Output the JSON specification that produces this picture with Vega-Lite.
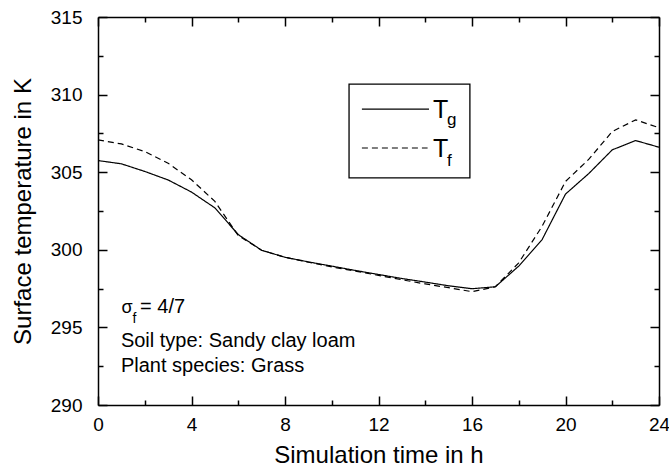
{
  "$schema": "https://vega.github.io/schema/vega-lite/v6.json",
  "width": 561,
  "height": 388,
  "autosize": {"type": "none"},
  "padding": {"left": 98, "top": 17, "right": 10, "bottom": 66},
  "background": "white",
  "config": {
    "view": {"stroke": null},
    "font": "Liberation Sans",
    "text": {"font": "Liberation Sans", "color": "black"},
    "axis": {
      "grid": false,
      "domainColor": "black",
      "domainWidth": 1.5,
      "tickColor": "black",
      "tickWidth": 1.5,
      "labelColor": "black",
      "titleColor": "black",
      "labelFont": "Liberation Sans",
      "titleFont": "Liberation Sans",
      "labelFontSize": 19,
      "titleFontSize": 24,
      "titleFontWeight": "normal",
      "labelFlush": false
    }
  },
  "resolve": {"axis": {"x": "independent", "y": "independent"}},
  "layer": [
    {
      "data": {
        "values": [
          {"t": 0, "series": "Tg", "value": 305.75},
          {"t": 1, "series": "Tg", "value": 305.54},
          {"t": 2, "series": "Tg", "value": 305.05},
          {"t": 3, "series": "Tg", "value": 304.5},
          {"t": 4, "series": "Tg", "value": 303.72},
          {"t": 5, "series": "Tg", "value": 302.7},
          {"t": 6, "series": "Tg", "value": 300.98},
          {"t": 7, "series": "Tg", "value": 299.97},
          {"t": 8, "series": "Tg", "value": 299.52},
          {"t": 9, "series": "Tg", "value": 299.22},
          {"t": 10, "series": "Tg", "value": 298.95},
          {"t": 11, "series": "Tg", "value": 298.67},
          {"t": 12, "series": "Tg", "value": 298.41},
          {"t": 13, "series": "Tg", "value": 298.15},
          {"t": 14, "series": "Tg", "value": 297.92},
          {"t": 15, "series": "Tg", "value": 297.68},
          {"t": 16, "series": "Tg", "value": 297.49},
          {"t": 17, "series": "Tg", "value": 297.62},
          {"t": 18, "series": "Tg", "value": 298.95},
          {"t": 19, "series": "Tg", "value": 300.66},
          {"t": 20, "series": "Tg", "value": 303.59},
          {"t": 21, "series": "Tg", "value": 304.92},
          {"t": 22, "series": "Tg", "value": 306.44},
          {"t": 23, "series": "Tg", "value": 307.04},
          {"t": 24, "series": "Tg", "value": 306.61},
          {"t": 0, "series": "Tf", "value": 307.08},
          {"t": 1, "series": "Tf", "value": 306.82},
          {"t": 2, "series": "Tf", "value": 306.33},
          {"t": 3, "series": "Tf", "value": 305.58},
          {"t": 4, "series": "Tf", "value": 304.51},
          {"t": 5, "series": "Tf", "value": 303.12},
          {"t": 6, "series": "Tf", "value": 300.92},
          {"t": 7, "series": "Tf", "value": 299.97},
          {"t": 8, "series": "Tf", "value": 299.52},
          {"t": 9, "series": "Tf", "value": 299.2},
          {"t": 10, "series": "Tf", "value": 298.9},
          {"t": 11, "series": "Tf", "value": 298.63},
          {"t": 12, "series": "Tf", "value": 298.35},
          {"t": 13, "series": "Tf", "value": 298.07},
          {"t": 14, "series": "Tf", "value": 297.8},
          {"t": 15, "series": "Tf", "value": 297.56},
          {"t": 16, "series": "Tf", "value": 297.3},
          {"t": 17, "series": "Tf", "value": 297.62},
          {"t": 18, "series": "Tf", "value": 299.16},
          {"t": 19, "series": "Tf", "value": 301.52},
          {"t": 20, "series": "Tf", "value": 304.4},
          {"t": 21, "series": "Tf", "value": 305.84},
          {"t": 22, "series": "Tf", "value": 307.62},
          {"t": 23, "series": "Tf", "value": 308.37},
          {"t": 24, "series": "Tf", "value": 307.87}
        ]
      },
      "mark": {"type": "line", "color": "black", "strokeWidth": 1.2},
      "encoding": {
        "x": {
          "field": "t", "type": "quantitative",
          "scale": {"domain": [0, 24], "nice": false, "zero": false},
          "axis": {
            "orient": "bottom",
            "values": [0, 4, 8, 12, 16, 20, 24],
            "tickSize": -9,
            "labelPadding": 19,
            "title": "Simulation time in h",
            "titlePadding": 9
          }
        },
        "y": {
          "field": "value", "type": "quantitative",
          "scale": {"domain": [290, 315], "nice": false, "zero": false},
          "axis": {
            "orient": "left",
            "values": [290, 295, 300, 305, 310, 315],
            "tickSize": -9,
            "labelPadding": 25,
            "title": "Surface temperature in K",
            "titlePadding": 15
          }
        },
        "detail": {"field": "series"},
        "strokeDash": {
          "field": "series", "type": "nominal",
          "scale": {"domain": ["Tg", "Tf"], "range": [[1, 0], [6, 4]]},
          "legend": null
        }
      }
    },
    {
      "data": {"values": [{"item": "legend box"}]},
      "mark": {"type": "rect", "fill": "white", "stroke": "black", "strokeWidth": 1.3},
      "encoding": {
        "x": {
          "datum": 10.74, "type": "quantitative",
          "axis": {
            "orient": "top",
            "values": [0, 4, 8, 12, 16, 20, 24],
            "labels": false,
            "title": null,
            "tickSize": -9
          }
        },
        "x2": {"datum": 15.91},
        "y": {
          "datum": 310.68, "type": "quantitative",
          "axis": {
            "orient": "right",
            "values": [290, 295, 300, 305, 310, 315],
            "labels": false,
            "title": null,
            "tickSize": -9
          }
        },
        "y2": {"datum": 304.63}
      }
    },
    {
      "data": {"values": [{"item": "Tg"}]},
      "mark": {"type": "rule", "color": "black", "strokeWidth": 1.2},
      "encoding": {
        "x": {
          "datum": 11.29, "type": "quantitative",
          "axis": {"orient": "bottom", "values": [2, 6, 10, 14, 18, 22], "labels": false, "domain": false, "title": null, "tickSize": -5}
        },
        "x2": {"datum": 14.16},
        "y": {
          "datum": 309.07, "type": "quantitative",
          "axis": {"orient": "left", "values": [292.5, 297.5, 302.5, 307.5, 312.5], "labels": false, "domain": false, "title": null, "tickSize": -5}
        }
      }
    },
    {
      "data": {"values": [{"item": "Tf"}]},
      "mark": {"type": "rule", "color": "black", "strokeWidth": 1.2, "strokeDash": [6, 4]},
      "encoding": {
        "x": {
          "datum": 11.29, "type": "quantitative",
          "axis": {"orient": "top", "values": [2, 6, 10, 14, 18, 22], "labels": false, "domain": false, "title": null, "tickSize": -5}
        },
        "x2": {"datum": 14.1},
        "y": {
          "datum": 306.56, "type": "quantitative",
          "axis": {"orient": "right", "values": [292.5, 297.5, 302.5, 307.5, 312.5], "labels": false, "domain": false, "title": null, "tickSize": -5}
        }
      }
    },
    {
      "data": {"values": [{"label": "T"}]},
      "mark": {"type": "text", "align": "left", "baseline": "alphabetic", "fontSize": 25},
      "encoding": {
        "x": {"datum": 14.33, "type": "quantitative", "axis": null},
        "y": {"datum": 308.49, "type": "quantitative", "axis": null},
        "text": {"field": "label"}
      }
    },
    {
      "data": {"values": [{"label": "g"}]},
      "mark": {"type": "text", "align": "left", "baseline": "alphabetic", "fontSize": 17},
      "encoding": {
        "x": {"datum": 14.93, "type": "quantitative", "axis": null},
        "y": {"datum": 308.04, "type": "quantitative", "axis": null},
        "text": {"field": "label"}
      }
    },
    {
      "data": {"values": [{"label": "T"}]},
      "mark": {"type": "text", "align": "left", "baseline": "alphabetic", "fontSize": 25},
      "encoding": {
        "x": {"datum": 14.33, "type": "quantitative", "axis": null},
        "y": {"datum": 305.98, "type": "quantitative", "axis": null},
        "text": {"field": "label"}
      }
    },
    {
      "data": {"values": [{"label": "f"}]},
      "mark": {"type": "text", "align": "left", "baseline": "alphabetic", "fontSize": 17},
      "encoding": {
        "x": {"datum": 14.93, "type": "quantitative", "axis": null},
        "y": {"datum": 305.4, "type": "quantitative", "axis": null},
        "text": {"field": "label"}
      }
    },
    {
      "data": {"values": [{"label": "σ"}]},
      "mark": {"type": "text", "align": "left", "baseline": "alphabetic", "fontSize": 18},
      "encoding": {
        "x": {"datum": 1.01, "type": "quantitative", "axis": null},
        "y": {"datum": 295.91, "type": "quantitative", "axis": null},
        "text": {"field": "label"}
      }
    },
    {
      "data": {"values": [{"label": "f"}]},
      "mark": {"type": "text", "align": "left", "baseline": "alphabetic", "fontSize": 14},
      "encoding": {
        "x": {"datum": 1.48, "type": "quantitative", "axis": null},
        "y": {"datum": 295.3, "type": "quantitative", "axis": null},
        "text": {"field": "label"}
      }
    },
    {
      "data": {"values": [{"label": "= 4/7"}]},
      "mark": {"type": "text", "align": "left", "baseline": "alphabetic", "fontSize": 20},
      "encoding": {
        "x": {"datum": 1.8, "type": "quantitative", "axis": null},
        "y": {"datum": 295.91, "type": "quantitative", "axis": null},
        "text": {"field": "label"}
      }
    },
    {
      "data": {"values": [{"label": "Soil type: Sandy clay loam"}]},
      "mark": {"type": "text", "align": "left", "baseline": "alphabetic", "fontSize": 20},
      "encoding": {
        "x": {"datum": 0.98, "type": "quantitative", "axis": null},
        "y": {"datum": 293.76, "type": "quantitative", "axis": null},
        "text": {"field": "label"}
      }
    },
    {
      "data": {"values": [{"label": "Plant species: Grass"}]},
      "mark": {"type": "text", "align": "left", "baseline": "alphabetic", "fontSize": 20},
      "encoding": {
        "x": {"datum": 0.98, "type": "quantitative", "axis": null},
        "y": {"datum": 292.15, "type": "quantitative", "axis": null},
        "text": {"field": "label"}
      }
    }
  ]
}
